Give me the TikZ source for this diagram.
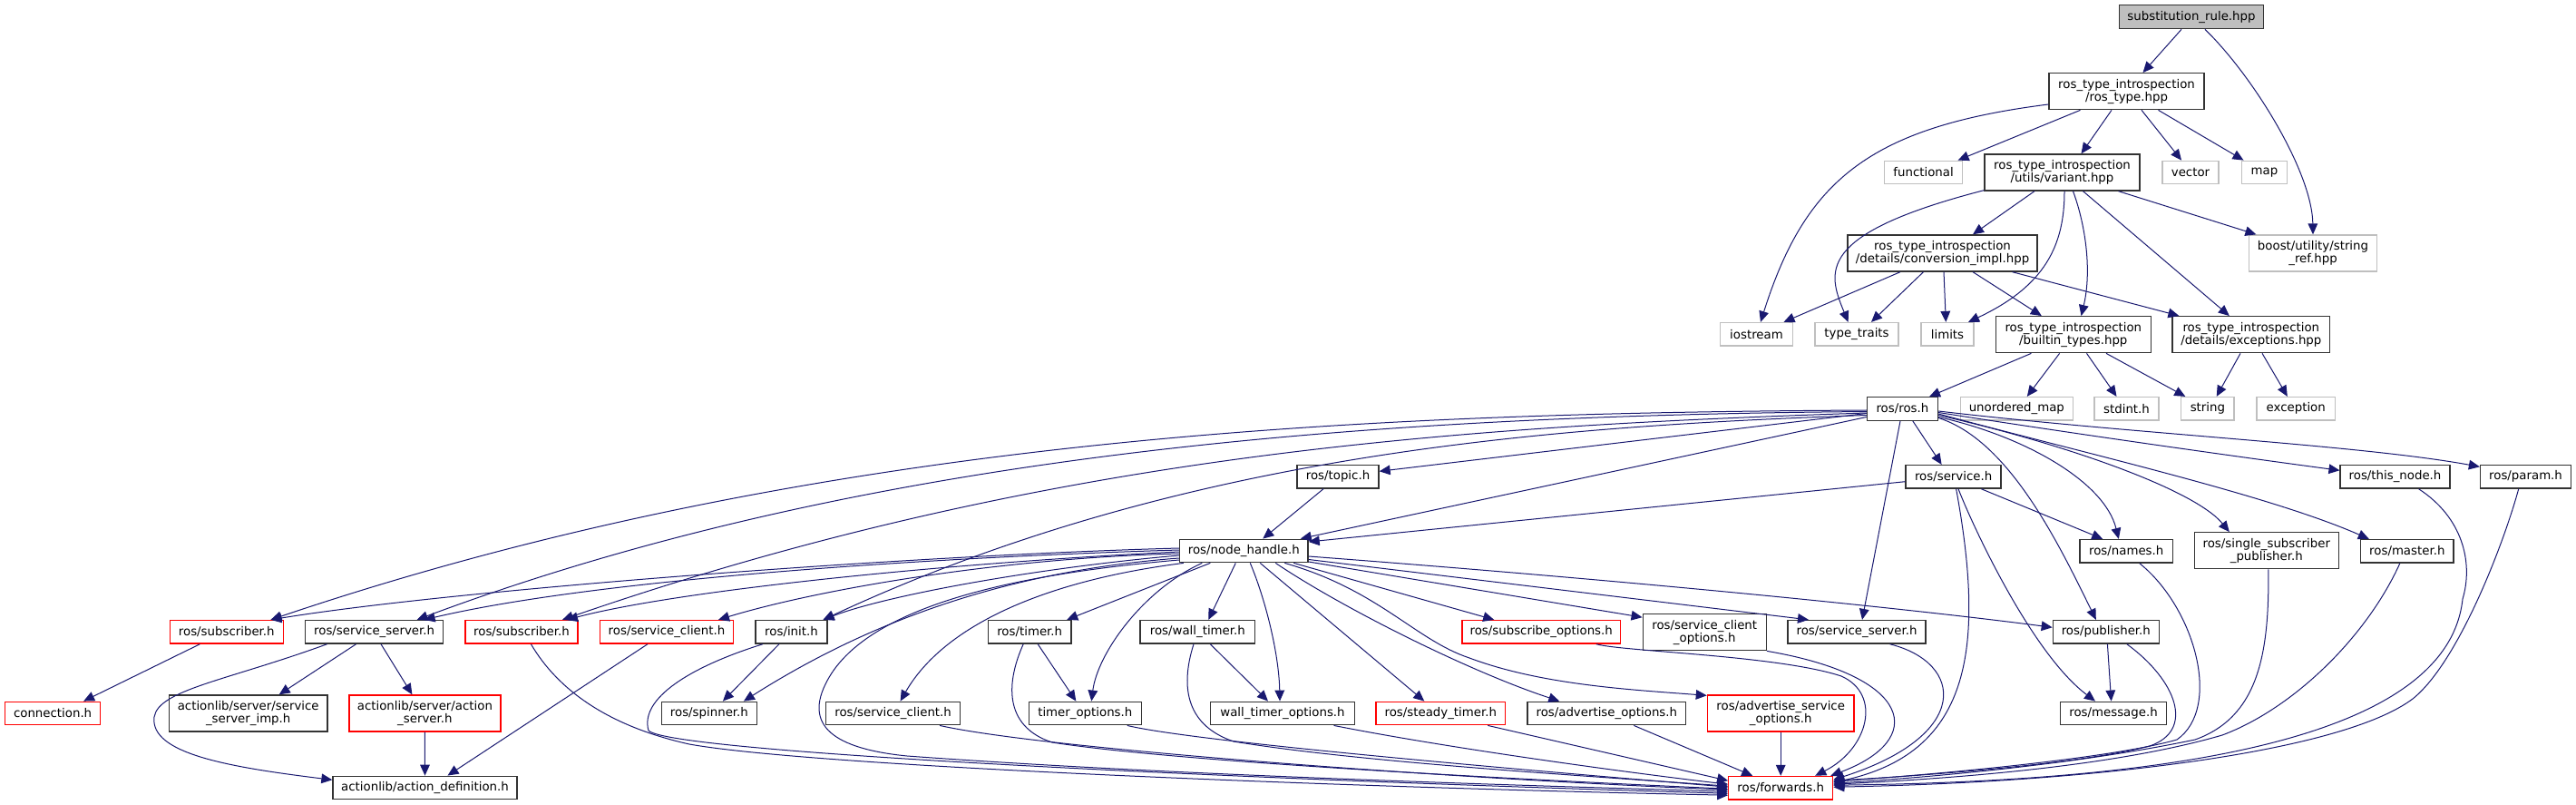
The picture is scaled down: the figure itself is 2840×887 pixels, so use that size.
\documentclass[tikz,border=0pt]{standalone}
\usepackage{fontspec}
\setmainfont{DejaVu Sans}
\usetikzlibrary{arrows.meta,calc}
\definecolor{edgeblue}{RGB}{25,25,112}
\definecolor{nodegray}{RGB}{191,191,191}
\definecolor{nodered}{RGB}{255,0,0}
\begin{document}
\begin{tikzpicture}[x=0.75pt,y=0.75pt,
  nd/.style={rectangle, fill=white, line width=1pt, inner sep=1pt, align=center,
    font=\fontsize{10}{10.5}\selectfont, minimum height=19.125pt},
  nb/.style={nd, draw=black!80},
  nr/.style={nd, draw=nodered},
  ng/.style={nd, draw=nodegray},
  bw/.style={minimum width=#1*0.75pt},
  dbl/.style={minimum height=30pt},
  dep/.style={draw=edgeblue, line width=0.75pt, -{Triangle[length=9pt,width=8pt]}}
]
\useasboundingbox (0,0) rectangle (2840,-887);
\fill[white] (0,0) rectangle (2840,-887);

% ---------------- nodes ----------------
\node[nd, draw=black!80, fill=nodegray, bw=159, minimum height=19.5pt] (root) at (2416,-18.7) {substitution\_rule.hpp};
\node[nb,bw=171,dbl] (rostype) at (2344.5,-100.7) {ros\_type\_introspection\\/ros\_type.hpp};
\node[ng,bw=86] (functional) at (2120.6,-190) {functional};
\node[nb,bw=171,dbl] (variant) at (2273.5,-190) {ros\_type\_introspection\\/utils/variant.hpp};
\node[ng,bw=62] (vector) at (2415,-190) {vector};
\node[ng,bw=50.5] (map) at (2496.5,-190) {map};
\node[ng,bw=141.5,dbl] (boost) at (2550,-279) {boost/utility/string\\\_ref.hpp};
\node[nb,bw=209,dbl] (conv) at (2141.5,-279) {ros\_type\_introspection\\/details/conversion\_impl.hpp};
\node[ng,bw=80] (iostream) at (1936.5,-368.3) {iostream};
\node[ng,bw=92] (typetraits) at (2047,-368.3) {type\_traits};
\node[ng,bw=58] (limits) at (2147,-368.3) {limits};
\node[nb,bw=171,dbl] (builtin) at (2285.8,-368.7) {ros\_type\_introspection\\/builtin\_types.hpp};
\node[nb,bw=173.6,dbl] (exceptions) at (2481.8,-368.7) {ros\_type\_introspection\\/details/exceptions.hpp};
\node[nb,bw=78] (ros) at (2097.4,-450.5) {ros/ros.h};
\node[ng,bw=124] (umap) at (2223.3,-450.3) {unordered\_map};
\node[ng,bw=71] (stdint) at (2344.5,-450.3) {stdint.h};
\node[ng,bw=58.3] (string) at (2433.9,-450.3) {string};
\node[ng,bw=86.8] (exception) at (2531.2,-450.3) {exception};
\node[nb,bw=90] (topic) at (1475,-525.3) {ros/topic.h};
\node[nb,bw=105] (service) at (2153.6,-525.3) {ros/service.h};
\node[nb,bw=120.8] (thisnode) at (2640.5,-525.3) {ros/this\_node.h};
\node[nb,bw=100] (param) at (2784.5,-525.3) {ros/param.h};
\node[nb,bw=141.5] (nh) at (1371.3,-607) {ros/node\_handle.h};
\node[nb,bw=102.4] (names) at (2344.2,-607.3) {ros/names.h};
\node[nb,bw=159,dbl] (ssp) at (2498.8,-606.8) {ros/single\_subscriber\\\_publisher.h};
\node[nb,bw=102.4] (master) at (2653.8,-607.3) {ros/master.h};
% row 1
\node[nr,bw=125] (sub1) at (249.8,-696.3) {ros/subscriber.h};
\node[nb,bw=152] (ss1) at (412.6,-696.3) {ros/service\_server.h};
\node[nr,bw=124] (sub2) at (575,-696.3) {ros/subscriber.h};
\node[nr,bw=147.4] (sc1) at (735,-696.3) {ros/service\_client.h};
\node[nb,bw=79] (init) at (872.5,-696.3) {ros/init.h};
\node[nb,bw=91.8] (timer) at (1135.2,-696.3) {ros/timer.h};
\node[nb,bw=126.7] (wtimer) at (1320.3,-696.3) {ros/wall\_timer.h};
\node[nr,bw=174.5] (subopt) at (1699.2,-696.3) {ros/subscribe\_options.h};
\node[nb,bw=136,dbl] (scopt) at (1879.2,-696.7) {ros/service\_client\\\_options.h};
\node[nb,bw=152] (ss2) at (2047,-696.3) {ros/service\_server.h};
\node[nb,bw=117] (pub) at (2321.8,-696.3) {ros/publisher.h};
% row 2
\node[nr,bw=105] (conn) at (58.1,-786) {connection.h};
\node[nb,bw=174.5,dbl] (ssimp) at (273.7,-786) {actionlib/server/service\\\_server\_imp.h};
\node[nr,bw=167,dbl] (as) at (468.4,-786) {actionlib/server/action\\\_server.h};
\node[nb,bw=105] (spinner) at (781.9,-786) {ros/spinner.h};
\node[nb,bw=147.8] (sc2) at (984.6,-786) {ros/service\_client.h};
\node[nb,bw=124] (topt) at (1196.3,-786) {timer\_options.h};
\node[nb,bw=159] (wtopt) at (1414,-786) {wall\_timer\_options.h};
\node[nr,bw=142.8] (steady) at (1588.3,-786) {ros/steady\_timer.h};
\node[nb,bw=174.5] (advopt) at (1771.3,-786) {ros/advertise\_options.h};
\node[nr,bw=161.6,dbl] (advsopt) at (1963.2,-786) {ros/advertise\_service\\\_options.h};
\node[nb,bw=117] (msg) at (2330,-786) {ros/message.h};
% bottom
\node[nb,bw=203] (actdef) at (468.5,-868) {actionlib/action\_definition.h};
\node[nr,bw=114.8] (fwd) at (1963.2,-868.2) {ros/forwards.h};

% ---------------- edges ----------------
% top part
\draw[dep] ($(root.south)+(-11,0)$) -- ($(rostype.north)+(18,0)$);
\draw[dep] ($(root.south)+(15,0)$) .. controls (2485,-85) and (2549,-190) .. (boost.north);
\draw[dep] ($(rostype.west)+(0,-14.3)$) .. controls (2060,-140) and (1990,-200) .. ($(iostream.north)+(4.5,0)$);
\draw[dep] ($(rostype.south)+(-51,0)$) -- ($(functional.north)+(38,0)$);
\draw[dep] ($(rostype.south)+(-16.5,0)$) -- ($(variant.north)+(21,0)$);
\draw[dep] ($(rostype.south)+(16.5,0)$) -- ($(vector.north)+(-10,0)$);
\draw[dep] ($(rostype.south)+(35,0)$) -- ($(map.north)+(-23,0)$);
% variant
\draw[dep] ($(variant.south west)+(0,1)$) .. controls (2000,-258) and (2015,-300) .. ($(typetraits.north)+(-9.4,0)$);
\draw[dep] ($(variant.south)+(-30.5,0)$) -- ($(conv.north)+(33.5,0)$);
\draw[dep] ($(variant.south)+(2.5,0)$) .. controls (2276,-270) and (2255,-315) .. ($(limits.north)+(23,0)$);
\draw[dep] ($(variant.south)+(12,0)$) .. controls (2300,-250) and (2306,-300) .. ($(builtin.north)+(8.7,0)$);
\draw[dep] ($(variant.south)+(23,0)$) -- ($(exceptions.north)+(-24,0)$);
\draw[dep] ($(variant.south)+(62,0)$) -- ($(boost.north)+(-62.6,0)$);
% conversion_impl
\draw[dep] ($(conv.south)+(-46.5,0)$) -- ($(iostream.north)+(30,0)$);
\draw[dep] ($(conv.south)+(-21,0)$) -- ($(typetraits.north)+(16,0)$);
\draw[dep] ($(conv.south)+(1.5,0)$) -- ($(limits.north)+(-1.7,0)$);
\draw[dep] ($(conv.south)+(33.5,0)$) -- ($(builtin.north)+(-35,0)$);
\draw[dep] ($(conv.south)+(77,0)$) -- ($(exceptions.north)+(-79.4,0)$);
% builtin_types
\draw[dep] ($(builtin.south)+(-46.4,0)$) -- ($(ros.north)+(29.6,0)$);
\draw[dep] ($(builtin.south)+(-15.2,0)$) -- ($(umap.north)+(11.5,0)$);
\draw[dep] ($(builtin.south)+(14.7,0)$) -- ($(stdint.north)+(-11,0)$);
\draw[dep] ($(builtin.south)+(36.2,0)$) -- ($(string.north)+(-24.6,0)$);
% exceptions
\draw[dep] ($(exceptions.south)+(-11.8,0)$) -- ($(string.north)+(9.8,0)$);
\draw[dep] ($(exceptions.south)+(12.2,0)$) -- ($(exception.north)+(-9.4,0)$);
% ros/ros.h
\draw[dep] ($(ros.south)+(11.4,0)$) -- ($(service.north)+(-13,0)$);
\draw[dep] ($(ros.west)+(0,-5)$) -- ($(topic.east)+(0,6)$);
\draw[dep] ($(ros.west)+(0,-9)$) -- ($(nh.north)+(62.5,0)$);
\draw[dep] ($(ros.west)+(0,-1.5)$) .. controls (1500,-455) and (900,-480) .. ($(sub1.north)+(48.7,0)$);
\draw[dep] ($(ros.west)+(0,-3)$) .. controls (1500,-458) and (950,-500) .. ($(ss1.north)+(47,0)$);
\draw[dep] ($(ros.west)+(0,-4.5)$) .. controls (1600,-470) and (1150,-500) .. ($(sub2.north)+(45,0)$);
\draw[dep] ($(ros.west)+(0,-7)$) .. controls (1700,-470) and (1300,-500) .. ($(init.north)+(35,0)$);
\draw[dep] ($(ros.south)+(-2.4,0)$) -- ($(ss2.north)+(6,0)$);
\draw[dep] ($(ros.east)+(0,-10)$) .. controls (2215,-485) and (2270,-600) .. ($(pub.north)+(-11,0)$);
\draw[dep] ($(ros.east)+(0,-9)$) .. controls (2230,-480) and (2320,-530) .. ($(names.north)+(-8.4,0)$);
\draw[dep] ($(ros.east)+(0,-7)$) .. controls (2280,-490) and (2420,-540) .. ($(ssp.north)+(-41,0)$);
\draw[dep] ($(ros.east)+(0,-5.5)$) .. controls (2300,-500) and (2500,-545) .. ($(master.north)+(-42,0)$);
\draw[dep] ($(ros.east)+(0,-4)$) .. controls (2300,-480) and (2480,-505) .. ($(thisnode.west)+(0,7)$);
\draw[dep] ($(ros.east)+(0,-2.5)$) .. controls (2350,-478) and (2600,-490) .. ($(param.west)+(0,11)$);
% ros/service.h
\draw[dep] ($(service.west)+(0,-5.4)$) -- ($(nh.east)+(0,10)$);
\draw[dep] ($(service.south)+(30.7,0)$) -- ($(names.north)+(-26,0)$);
\draw[dep] ($(service.south)+(5.4,0)$) .. controls (2175,-580) and (2240,-720) .. ($(msg.north)+(-20,0)$);
\draw[dep] ($(service.south)+(3,0)$) .. controls (2190,-720) and (2170,-830) .. ($(fwd.east)+(0,6)$);
% ros/topic.h
\draw[dep] ($(topic.south)+(-16,0)$) -- ($(nh.north)+(21,0)$);
% right column to forwards
\draw[dep] ($(thisnode.south)+(26,0)$) .. controls (2715,-570) and (2727,-620) .. (2715,-660) .. controls (2700,-800) and (2450,-860) .. ($(fwd.east)+(0,3)$);
\draw[dep] ($(param.south)+(-7.8,0)$) .. controls (2760,-600) and (2710,-730) .. (2660,-770) .. controls (2580,-830) and (2300,-862) .. ($(fwd.east)+(0,1)$);
\draw[dep] ($(master.south)+(-8,0)$) .. controls (2610,-700) and (2530,-780) .. (2450,-810) .. controls (2330,-845) and (2150,-858) .. ($(fwd.east)+(0,4)$);
\draw[dep] ($(ssp.south)+(2,0)$) .. controls (2502,-720) and (2490,-790) .. (2420,-815) .. controls (2300,-840) and (2150,-855) .. ($(fwd.east)+(0,5)$);
\draw[dep] ($(names.south)+(14.6,0)$) .. controls (2420,-670) and (2450,-780) .. (2400,-815) .. controls (2330,-835) and (2150,-852) .. ($(fwd.east)+(0,7)$);
\draw[dep] ($(pub.south)+(23,0)$) .. controls (2400,-750) and (2420,-805) .. (2370,-822) .. controls (2300,-840) and (2150,-853) .. ($(fwd.east)+(0,8)$);
\draw[dep] ($(pub.south)+(1.6,0)$) -- ($(msg.north)+(-2.4,0)$);
\draw[dep] ($(ss2.south)+(36.5,0)$) .. controls (2165,-730) and (2175,-810) .. ($(fwd.east)+(0,9)$);
\draw[dep] (scopt.south east) .. controls (2110,-745) and (2125,-815) .. ($(fwd.north east)+(-3,0)$);
\draw[dep] ($(subopt.south)+(60.6,0)$) .. controls (1790,-718) and (1960,-722) .. (2030,-745) .. controls (2075,-765) and (2060,-825) .. ($(fwd.north)+(38,0)$);
\draw[dep] (advsopt.south) -- (fwd.north);
\draw[dep] ($(advopt.south)+(30,0)$) -- ($(fwd.north)+(-31,0)$);
\draw[dep] ($(steady.south)+(52,0)$) -- ($(fwd.west)+(0,8)$);
\draw[dep] ($(wtopt.south)+(56.5,0)$) .. controls (1600,-825) and (1800,-852) .. ($(fwd.west)+(0,4)$);
\draw[dep] ($(topt.south)+(46.4,0)$) .. controls (1320,-818) and (1700,-850) .. ($(fwd.west)+(0,1)$);
\draw[dep] ($(sc2.south)+(51.4,0)$) .. controls (1150,-825) and (1600,-858) .. ($(fwd.west)+(0,-2)$);
\draw[dep] ($(timer.south)+(-7,0)$) .. controls (1110,-750) and (1105,-800) .. (1160,-818) .. controls (1300,-840) and (1700,-860) .. ($(fwd.west)+(0,-1)$);
\draw[dep] ($(wtimer.south)+(-4.3,0)$) .. controls (1300,-760) and (1310,-800) .. (1360,-817) .. controls (1500,-840) and (1750,-855) .. ($(fwd.west)+(0,2)$);
\draw[dep] ($(nh.west)+(0,-10)$) .. controls (1150,-630) and (960,-660) .. (912,-750) .. controls (885,-800) and (920,-825) .. (1000,-833) .. controls (1300,-855) and (1700,-866) .. ($(fwd.west)+(0,-4)$);
\draw[dep] ($(init.south)+(-31.5,0)$) .. controls (760,-735) and (705,-770) .. (715,-805) .. controls (740,-830) and (1400,-860) .. ($(fwd.west)+(0,-6)$);
\draw[dep] ($(sub2.south)+(10.4,0)$) .. controls (615,-760) and (670,-800) .. (760,-820) .. controls (900,-845) and (1500,-868) .. ($(fwd.west)+(0,-8)$);
% left part
\draw[dep] ($(sc1.south)+(-21,0)$) -- ($(actdef.north)+(25,0)$);
\draw[dep] ($(sub1.south)+(-29.4,0)$) -- ($(conn.north)+(34,0)$);
\draw[dep] ($(ss1.south)+(-52,0)$) .. controls (250,-750) and (175,-760) .. (170,-790) .. controls (165,-830) and (250,-845) .. ($(actdef.west)+(0,8.7)$);
\draw[dep] ($(ss1.south)+(-20,0)$) -- ($(ssimp.north)+(34,0)$);
\draw[dep] ($(ss1.south)+(7.4,0)$) -- ($(as.north)+(-14,0)$);
\draw[dep] (as.south) -- (actdef.north);
% node_handle
\draw[dep] ($(nh.west)+(0,3)$) .. controls (1000,-612) and (500,-650) .. ($(sub1.north)+(48.7,0)$);
\draw[dep] ($(nh.west)+(0,1)$) .. controls (1000,-615) and (650,-640) .. ($(ss1.north)+(55,0)$);
\draw[dep] ($(nh.west)+(0,-1)$) .. controls (1050,-620) and (750,-650) .. ($(sub2.north)+(50,0)$);
\draw[dep] ($(nh.west)+(0,-3)$) .. controls (1100,-615) and (900,-650) .. ($(sc1.north)+(57,0)$);
\draw[dep] ($(nh.west)+(0,-5)$) .. controls (1150,-625) and (980,-655) .. ($(init.north)+(35,0)$);
\draw[dep] ($(nh.west)+(0,-8)$) .. controls (1100,-630) and (950,-690) .. ($(spinner.north)+(38,0)$);
\draw[dep] ($(nh.south west)+(5,0)$) .. controls (1150,-640) and (1040,-690) .. ($(sc2.north)+(8,0)$);
\draw[dep] ($(nh.south)+(-37,0)$) -- ($(timer.north)+(41,0)$);
\draw[dep] ($(nh.south)+(-46,0)$) .. controls (1260,-650) and (1210,-720) .. ($(topt.north)+(7,0)$);
\draw[dep] ($(nh.south)+(-9,0)$) -- ($(wtimer.north)+(12,0)$);
\draw[dep] ($(nh.south)+(7,0)$) .. controls (1395,-660) and (1410,-720) .. ($(wtopt.north)+(-3,0)$);
\draw[dep] ($(nh.south)+(18,0)$) -- ($(steady.north)+(-18,0)$);
\draw[dep] ($(nh.south)+(35,0)$) .. controls (1480,-670) and (1620,-740) .. ($(advopt.north)+(-52,0)$);
\draw[dep] ($(nh.south)+(45,0)$) .. controls (1520,-650) and (1560,-705) .. (1620,-725) .. controls (1700,-755) and (1800,-760) .. ($(advsopt.north west)+(0,-1)$);
\draw[dep] ($(nh.south)+(55,0)$) -- ($(subopt.north)+(-52,0)$);
\draw[dep] ($(nh.east)+(0,-12)$) -- ($(scopt.west)+(0,16.5)$);
\draw[dep] ($(nh.east)+(0,-9.5)$) -- ($(ss2.north)+(-53,0)$);
\draw[dep] ($(nh.east)+(0,-6)$) .. controls (1800,-640) and (2100,-670) .. ($(pub.west)+(0,5)$);
% small ones
\draw[dep] ($(init.south)+(-13.5,0)$) -- ($(spinner.north)+(15,0)$);
\draw[dep] ($(timer.south)+(9,0)$) -- ($(topt.north)+(-10,0)$);
\draw[dep] ($(wtimer.south)+(14,0)$) -- ($(wtopt.north)+(-16,0)$);
\end{tikzpicture}
\end{document}
